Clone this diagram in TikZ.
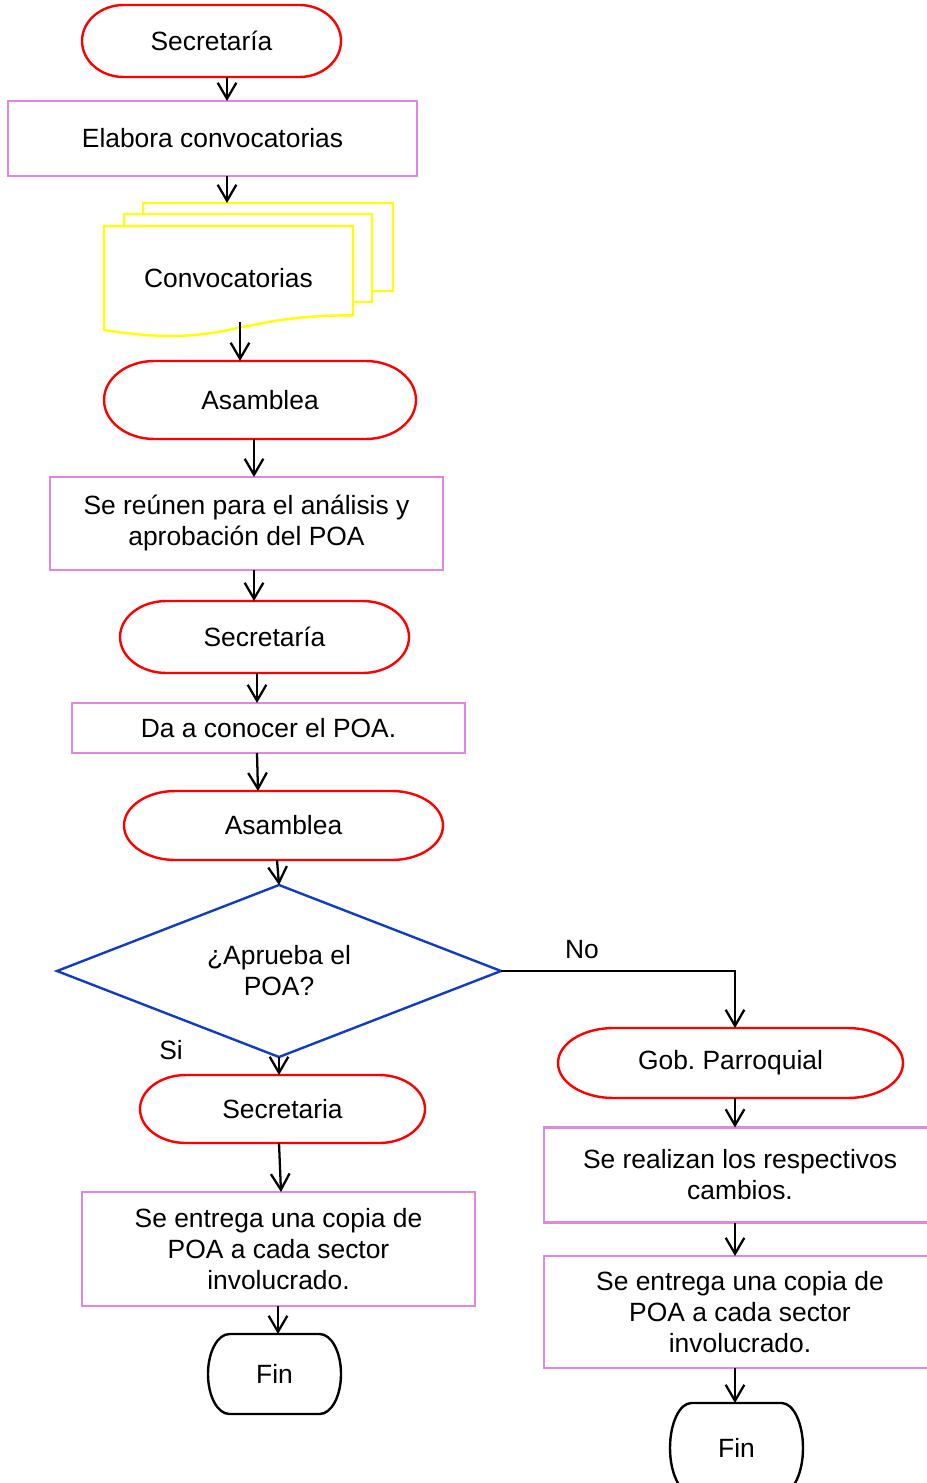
\documentclass[tikz,border=0pt]{standalone}
\usepackage{fontspec}
\setmainfont{Liberation Sans}
\usetikzlibrary{shapes.geometric,arrows.meta}
\definecolor{tred}{RGB}{255,0,0}
\definecolor{pviolet}{RGB}{226,134,226}
\definecolor{dyellow}{RGB}{255,255,0}
\definecolor{dblue}{RGB}{16,60,200}
\newcommand\pxu{0.75pt}
\tikzset{
  txt/.style={font=\fontsize{19.8}{23.25}\selectfont, align=center, inner sep=0pt, outer sep=0pt},
  proc/.style={txt, draw=pviolet, line width=1.8pt, fill=white},
  sheet/.style={draw=dyellow, line width=1.8pt, fill=white, inner sep=0pt, outer sep=0pt},
  arr/.style={draw=black, line width=1.7pt, -{Straight Barb[length=12pt,width=14pt]}},
  thinarr/.style={draw=black, line width=1.2pt, -{Straight Barb[length=12pt,width=14pt,line width=1.7pt]}},
}
% name, cx, cy, w, h, colour, text
\newcommand\term[7]{%
  \pgfmathsetmacro\trx{0.161*#4}%
  \pgfmathsetmacro\thw{#4/2}%
  \pgfmathsetmacro\thh{#5/2}%
  \draw[#6, fill=white, line width=1.8pt] (#2+\thw-\trx,#3-\thh)
     arc[start angle=-90,end angle=90,x radius=\trx,y radius=\thh]
     -- (#2-\thw+\trx,#3+\thh)
     arc[start angle=90,end angle=270,x radius=\trx,y radius=\thh] -- cycle;
  \node[txt, minimum width=#4*\pxu, minimum height=#5*\pxu] (#1) at (#2,#3) {#7};%
}
\begin{document}
\begin{tikzpicture}[x=0.75pt,y=-0.75pt]
\useasboundingbox (0,0) rectangle (926,1483);

\term{s1}{211.5}{41}{259}{72}{tred}{Secretaría}
\node[proc, minimum width=409*\pxu, minimum height=75*\pxu] (e1) at (212.5,138.5) {Elabora convocatorias};

% multi-document
\node[sheet, minimum width=250*\pxu, minimum height=88*\pxu] (docb) at (268,247) {};
\node[sheet, minimum width=248*\pxu, minimum height=88*\pxu] (docm) at (248,258) {};
\draw[dyellow, fill=white, line width=1.8pt] (104,226) -- (353,226) -- (353,315.3)
   .. controls (228.5,315.3) and (228.5,349.4) .. (104,330) -- cycle;
\node[txt, minimum width=249*\pxu, minimum height=104*\pxu] (docf) at (228.5,278) {Convocatorias};

\term{a1}{260}{400}{312}{78}{tred}{Asamblea}
\node[proc, minimum width=393*\pxu, minimum height=93*\pxu] (r1) at (246.5,523.5) {Se reúnen para el análisis y\\aprobación del POA};
\term{s2}{264.5}{637}{289}{72}{tred}{Secretaría}
\node[proc, minimum width=393*\pxu, minimum height=50*\pxu] (d1) at (268.5,728) {Da a conocer el POA.};
\term{a2}{283.5}{825.5}{319}{69}{tred}{Asamblea}

\node[txt, diamond, draw=dblue, line width=1.8pt, fill=white, shape aspect=2.58,
      minimum width=444*\pxu, minimum height=172*\pxu] (q) at (279,971) {¿Aprueba el\\POA?};

\node[txt] (no) at (582,950) {No};
\node[txt] (si) at (171,1050) {Si};

\term{s3}{282.5}{1109}{285}{68}{tred}{Secretaria}
\node[proc, minimum width=393*\pxu, minimum height=114*\pxu] (e2) at (278.5,1249) {Se entrega una copia de\\POA a cada sector\\involucrado.};
\term{f1}{274.5}{1374}{133}{80}{black}{Fin}

\term{g1}{730.5}{1063}{345}{70}{tred}{Gob.\ Parroquial}
\node[proc, minimum width=392*\pxu, minimum height=95*\pxu] (c1) at (740,1175) {Se realizan los respectivos\\cambios.};
\node[proc, minimum width=392*\pxu, minimum height=112*\pxu] (c2) at (740,1312) {Se entrega una copia de\\POA a cada sector\\involucrado.};
\term{f2}{736.5}{1448}{133}{90}{black}{Fin}

% connectors
\draw[arr] ([xshift=15.5*\pxu]s1.south) -- ([xshift=14.5*\pxu]e1.north);
\draw[arr] ([xshift=14.5*\pxu]e1.south) -- ([xshift=-41*\pxu]docb.north);
\draw[arr] ([xshift=11.5*\pxu,yshift=8*\pxu]docf.south) -- ([xshift=-20*\pxu]a1.north);
\draw[arr] ([xshift=-6*\pxu]a1.south) -- ([xshift=7.5*\pxu]r1.north);
\draw[arr] ([xshift=7.5*\pxu]r1.south) -- ([xshift=-10.5*\pxu]s2.north);
\draw[arr] ([xshift=-7.5*\pxu]s2.south) -- ([xshift=-11.5*\pxu]d1.north);
\draw[arr] ([xshift=-11.5*\pxu]d1.south) -- ([xshift=-25.5*\pxu]a2.north);
\draw[arr] ([xshift=-6.5*\pxu]a2.south) -- (q.north);
\draw[arr] (q.south) -- ([xshift=-3.5*\pxu]s3.north);
\draw[arr] ([xshift=-3.5*\pxu]s3.south) -- ([xshift=2.5*\pxu]e2.north);
\draw[arr] ([xshift=-0.5*\pxu]e2.south) -- ([xshift=3.5*\pxu]f1.north);
\draw[thinarr] (q.east) -| ([xshift=4.5*\pxu]g1.north);
\draw[arr] ([xshift=4.5*\pxu]g1.south) -- ([xshift=-5*\pxu]c1.north);
\draw[arr] ([xshift=-5*\pxu]c1.south) -- ([xshift=-5*\pxu]c2.north);
\draw[arr] ([xshift=-5*\pxu]c2.south) -- ([xshift=-1.5*\pxu]f2.north);
\end{tikzpicture}
\end{document}
